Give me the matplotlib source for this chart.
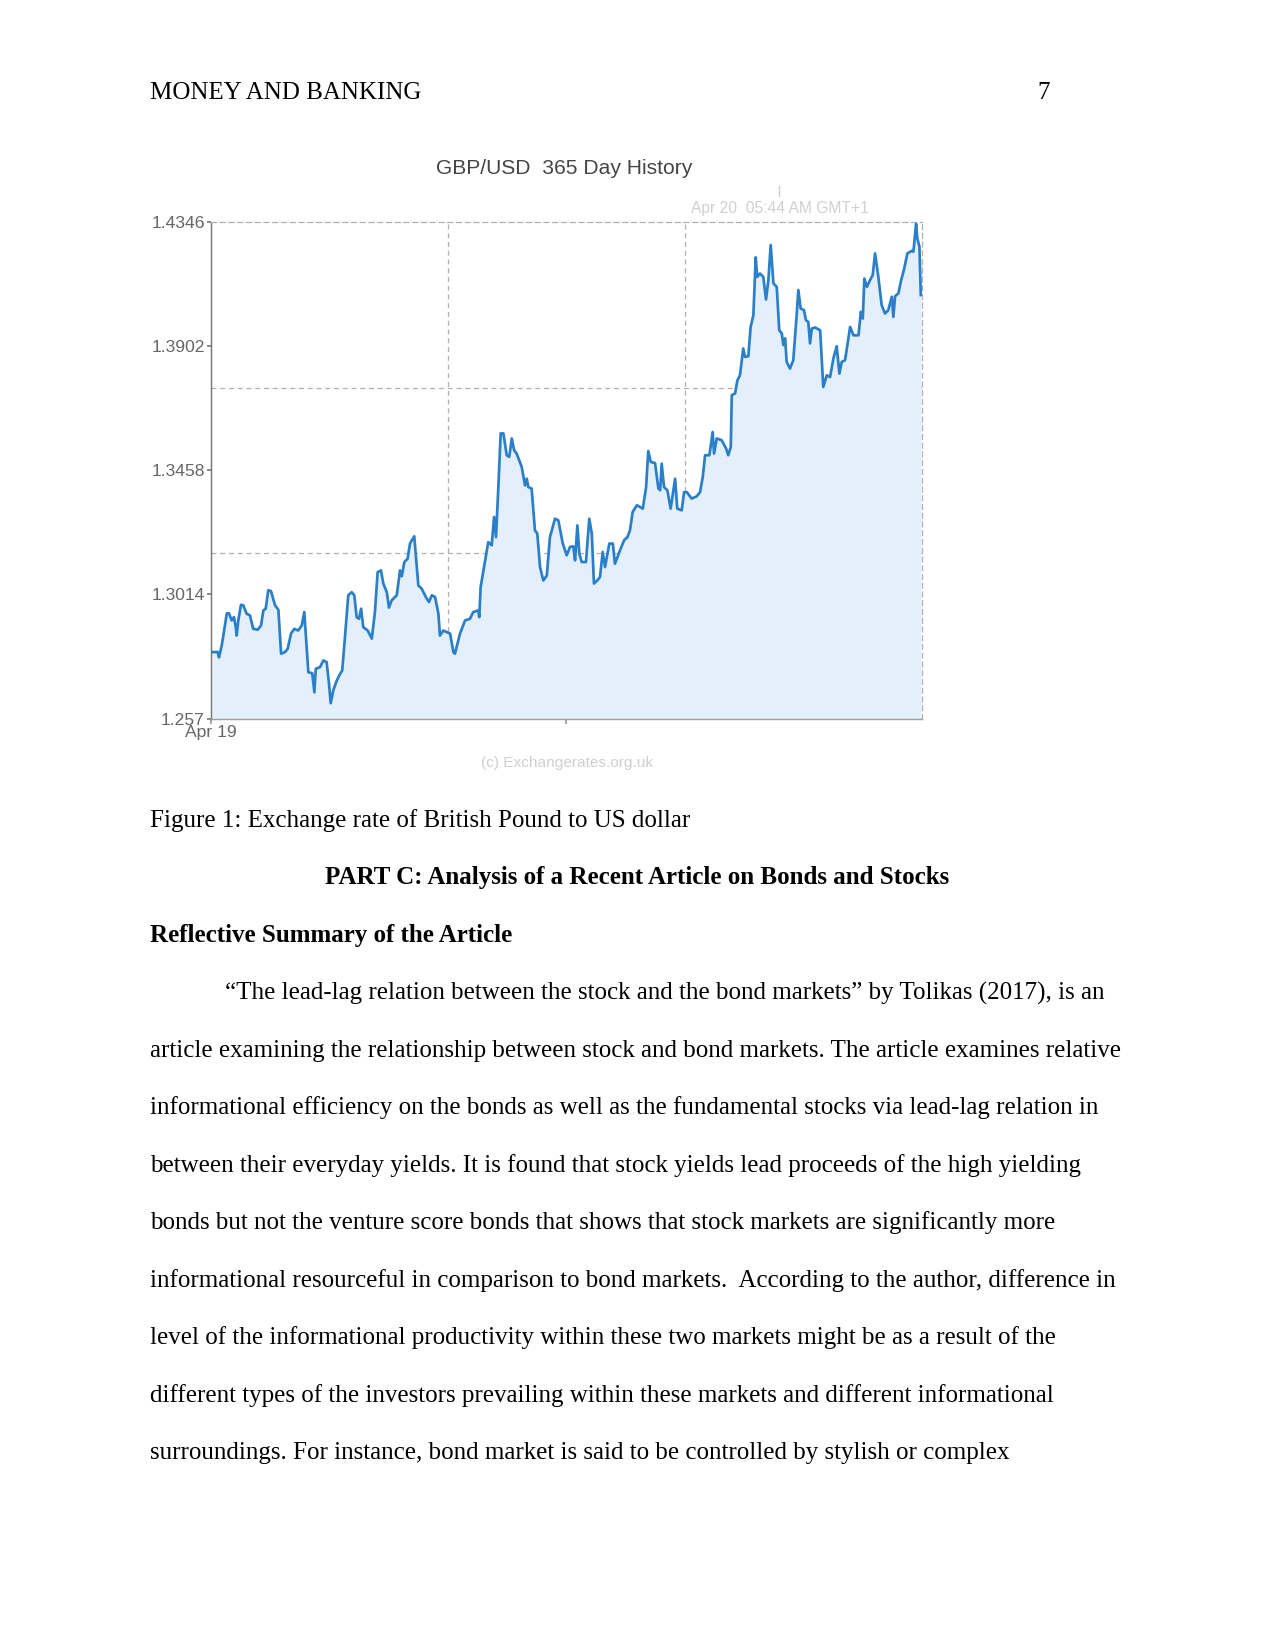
import matplotlib
matplotlib.use("Agg")
import matplotlib.pyplot as plt
import matplotlib.transforms as mtransforms

# GBP/USD, days since Apr 19 and rate
days = [
    0.4, 3.4, 4.1, 5.5, 6.2, 8.1, 9.2, 10.6, 11.8, 12.7,
    13.2, 14.0, 15.4, 16.6, 18.3, 20.0, 21.7, 24.0, 25.7, 26.9,
    28.1, 29.4, 30.8, 32.9, 34.6, 36.0, 38.0, 39.4, 41.1, 42.8,
    44.8, 46.6, 47.9, 50.0, 52.0, 53.1, 53.8, 56.0, 57.7, 59.4,
    60.6, 61.5, 62.8, 64.6, 66.3, 67.4, 68.8, 70.5, 72.3, 73.6,
    74.8, 76.0, 77.1, 78.2, 80.5, 82.6, 84.2, 85.6, 87.3, 88.5,
    90.3, 91.4, 92.8, 95.4, 97.1, 98.0, 99.3, 101.0, 102.2, 104.4,
    106.5, 108.2, 110.8, 112.0, 113.4, 115.1, 116.8, 117.6, 119.3, 122.8,
    124.5, 125.3, 127.9, 130.5, 133.0, 134.7, 137.3, 137.8, 138.5, 140.8,
    142.4, 144.2, 145.4, 146.4, 147.6, 148.8, 150.2, 151.9, 153.2, 154.5,
    155.7, 157.0, 159.6, 161.3, 162.2, 163.0, 164.7, 166.4, 167.6, 169.0,
    170.7, 172.5, 174.1, 176.7, 178.4, 180.7, 182.7, 184.4, 186.1, 187.0,
    188.2, 189.2, 190.4, 192.6, 194.3, 195.6, 196.7, 198.4, 199.8, 201.2,
    202.4, 204.6, 206.4, 207.5, 210.1, 212.2, 213.9, 215.2, 216.6, 218.7,
    220.4, 221.8, 223.5, 224.6, 225.9, 228.1, 229.8, 230.7, 231.5, 232.7,
    234.4, 236.1, 237.5, 238.4, 239.5, 241.8, 243.0, 244.4, 246.9, 249.5,
    251.2, 252.6, 253.8, 256.0, 257.7, 258.4, 259.8, 262.3, 264.6, 265.7,
    267.0, 267.5, 269.2, 270.4, 271.7, 273.4, 274.3, 276.0, 277.2, 278.6,
    279.8, 280.6, 282.0, 283.7, 285.1, 286.3, 287.5, 288.9, 290.6, 291.9,
    293.2, 294.0, 294.9, 295.7, 297.4, 299.1, 300.9, 301.7, 302.9, 304.6,
    305.6, 306.8, 307.7, 308.6, 310.3, 312.9, 314.5, 316.3, 318.0, 319.7,
    321.4, 322.8, 324.0, 325.7, 328.3, 330.0, 332.6, 333.8, 334.8, 335.6,
    336.9, 338.5, 339.9, 341.1, 342.8, 344.5, 346.2, 347.9, 349.7, 350.5,
    351.4, 353.1, 354.3, 356.0, 357.7, 359.9, 360.8, 362.2, 362.8, 363.9, 364.6,
]
rates = [
    1.2808, 1.2808, 1.2789, 1.2832, 1.2861, 1.2946, 1.2947, 1.2921, 1.2933, 1.2897,
    1.2867, 1.2921, 1.2977, 1.2975, 1.2945, 1.2939, 1.2891, 1.2888, 1.2903, 1.2957,
    1.2963, 1.3029, 1.3026, 1.2975, 1.2959, 1.2802, 1.2808, 1.2820, 1.2874, 1.2891,
    1.2885, 1.2903, 1.2951, 1.2736, 1.2732, 1.2664, 1.2748, 1.2754, 1.2778, 1.2772,
    1.2695, 1.2625, 1.2671, 1.2706, 1.2730, 1.2742, 1.2861, 1.3011, 1.3022, 1.3011,
    1.2933, 1.2927, 1.2963, 1.2897, 1.2885, 1.2856, 1.2951, 1.3094, 1.3100, 1.3053,
    1.3022, 1.2967, 1.2993, 1.3011, 1.3100, 1.3079, 1.3130, 1.3142, 1.3196, 1.3222,
    1.3046, 1.3035, 1.2999, 1.2987, 1.3011, 1.3005, 1.2945, 1.2867, 1.2885, 1.2874,
    1.2808, 1.2802, 1.2874, 1.2921, 1.2927, 1.2951, 1.2957, 1.2933, 1.3040, 1.3136,
    1.3201, 1.3190, 1.3291, 1.3219, 1.3398, 1.3590, 1.3590, 1.3512, 1.3506, 1.3572,
    1.3530, 1.3518, 1.3470, 1.3404, 1.3428, 1.3398, 1.3393, 1.3243, 1.3232, 1.3112,
    1.3064, 1.3082, 1.3219, 1.3285, 1.3279, 1.3196, 1.3154, 1.3184, 1.3186, 1.3136,
    1.3261, 1.3160, 1.3130, 1.3130, 1.3285, 1.3232, 1.3053, 1.3064, 1.3076, 1.3166,
    1.3112, 1.3196, 1.3196, 1.3124, 1.3172, 1.3208, 1.3219, 1.3243, 1.3309, 1.3333,
    1.3327, 1.3321, 1.3398, 1.3527, 1.3488, 1.3484, 1.3393, 1.3387, 1.3482, 1.3398,
    1.3387, 1.3321, 1.3387, 1.3428, 1.3321, 1.3315, 1.3380, 1.3380, 1.3357, 1.3365,
    1.3380, 1.3434, 1.3512, 1.3512, 1.3595, 1.3518, 1.3572, 1.3566, 1.3536, 1.3512,
    1.3542, 1.3727, 1.3733, 1.3780, 1.3798, 1.3894, 1.3864, 1.3866, 1.3971, 1.4013,
    1.4220, 1.4150, 1.4162, 1.4150, 1.4069, 1.4138, 1.4264, 1.4127, 1.4114, 1.3959,
    1.3948, 1.3906, 1.3930, 1.3846, 1.3822, 1.3852, 1.4019, 1.4103, 1.4037, 1.4031,
    1.3995, 1.3989, 1.3912, 1.3965, 1.3969, 1.3959, 1.3756, 1.3798, 1.3792, 1.3858,
    1.3902, 1.3804, 1.3846, 1.3852, 1.3971, 1.3941, 1.3941, 1.4025, 1.4001, 1.4144,
    1.4114, 1.4138, 1.4156, 1.4234, 1.4150, 1.4049, 1.4019, 1.4031, 1.4079, 1.4007,
    1.4081, 1.4091, 1.4132, 1.4177, 1.4234, 1.4243, 1.4240, 1.4340, 1.4288, 1.4258, 1.4085,
]

y_ticks = [1.257, 1.3014, 1.3458, 1.3902, 1.4346]
y_tick_labels = ["1.257", "1.3014", "1.3458", "1.3902", "1.4346"]
start_label = "Apr 19"
chart_title = "GBP/USD  365 Day History"
cursor_day = 292
cursor_label = "Apr 20  05:44 AM GMT+1"
credit = "(c) Exchangerates.org.uk"

header = "MONEY AND BANKING"
page_no = "7"
caption = "Figure 1: Exchange rate of British Pound to US dollar"
part_heading = "PART C: Analysis of a Recent Article on Bonds and Stocks"
sub_heading = "Reflective Summary of the Article"
paragraph = [
    "\u201cThe lead-lag relation between the stock and the bond markets\u201d by Tolikas (2017), is an",
    "article examining the relationship between stock and bond markets. The article examines relative",
    "informational efficiency on the bonds as well as the fundamental stocks via lead-lag relation in",
    "between their everyday yields. It is found that stock yields lead proceeds of the high yielding",
    "bonds but not the venture score bonds that shows that stock markets are significantly more",
    "informational resourceful in comparison to bond markets.  According to the author, difference in",
    "level of the informational productivity within these two markets might be as a result of the",
    "different types of the investors prevailing within these markets and different informational",
    "surroundings. For instance, bond market is said to be controlled by stylish or complex",
]

serif = "Liberation Serif"
sans = "Liberation Sans"

fig = plt.figure(figsize=(8.5, 11), dpi=150)
fig.patch.set_facecolor("white")

# --- chart ---
ax = fig.add_axes([0.1655, 0.5645, 0.5573, 0.3009])
ymin, ymax = y_ticks[0], y_ticks[-1]
ax.set_xlim(0, 365)
ax.set_ylim(ymin, ymax)

ax.fill_between(days, rates, ymin, color="#e3effa", lw=0, zorder=1)
ax.plot(days, rates, color="#2a7fc8", lw=1.3, zorder=3, solid_joinstyle="round")

# dashed grid at thirds of the range
ax.set_axisbelow(True)
span = ymax - ymin
ax.set_yticks([ymin + span / 3, ymin + 2 * span / 3], minor=True)
ax.set_xticks([365 / 3, 2 * 365 / 3], minor=True)
ax.grid(which="minor", linestyle=(0, (4, 3)), color="#b0b0b0", lw=0.6)
ax.tick_params(which="minor", length=0)

ax.set_yticks(y_ticks)
ax.set_yticklabels(y_tick_labels)
ax.set_xticks([0, 182.5])
ax.set_xticklabels([start_label, ""])
ax.tick_params(axis="y", which="major", length=2, pad=1, colors="#777777",
               labelsize=8.4, labelcolor="#666666")
ax.tick_params(axis="x", which="major", length=2.5, pad=0.5, colors="#999999",
               labelsize=8.4, labelcolor="#666666")
for lab in ax.get_xticklabels() + ax.get_yticklabels():
    lab.set_fontfamily(sans)

for side in ("top", "right"):
    ax.spines[side].set_linestyle((0, (4, 3)))
    ax.spines[side].set_color("#b0b0b0")
    ax.spines[side].set_linewidth(0.6)
ax.spines["left"].set_color("#777777")
ax.spines["left"].set_linewidth(0.7)
ax.spines["bottom"].set_color("#a0a0a0")
ax.spines["bottom"].set_linewidth(0.7)

trans = mtransforms.blended_transform_factory(ax.transData, ax.transAxes)
ax.text(cursor_day, 1.028, cursor_label, transform=trans, ha="center", va="center",
        fontsize=7.5, color="#d0d0d0", family=sans)
ax.plot([cursor_day, cursor_day], [1.053, 1.072], transform=trans, color="#c8c8c8",
        lw=0.6, clip_on=False)

fig.text(0.4424, 0.8945, chart_title, ha="center", va="baseline",
         fontsize=10.1, color="#444444", family=sans)
fig.text(0.4447, 0.5376, credit, ha="center", va="center",
         fontsize=7.4, color="#cfcfcf", family=sans)

# --- page text ---
fig.text(0.1176, 0.9400, header, ha="left", va="baseline", fontsize=12, family=serif)
fig.text(0.8185, 0.9400, page_no, ha="center", va="baseline", fontsize=12, family=serif)
fig.text(0.1176, 0.4988, caption, ha="left", va="baseline", fontsize=12, family=serif)
fig.text(0.5, 0.4644, part_heading, ha="center", va="baseline", fontsize=12,
         family=serif, weight="bold")
fig.text(0.1176, 0.4293, sub_heading, ha="left", va="baseline", fontsize=12,
         family=serif, weight="bold")

for i, line in enumerate(paragraph):
    x = 225 / 1275 if i == 0 else 0.1176
    y = 1 - (999.4 + 57.5 * i) / 1650
    fig.text(x, y, line, ha="left", va="baseline", fontsize=12, family=serif)

fig.savefig("out.png", dpi=150)
